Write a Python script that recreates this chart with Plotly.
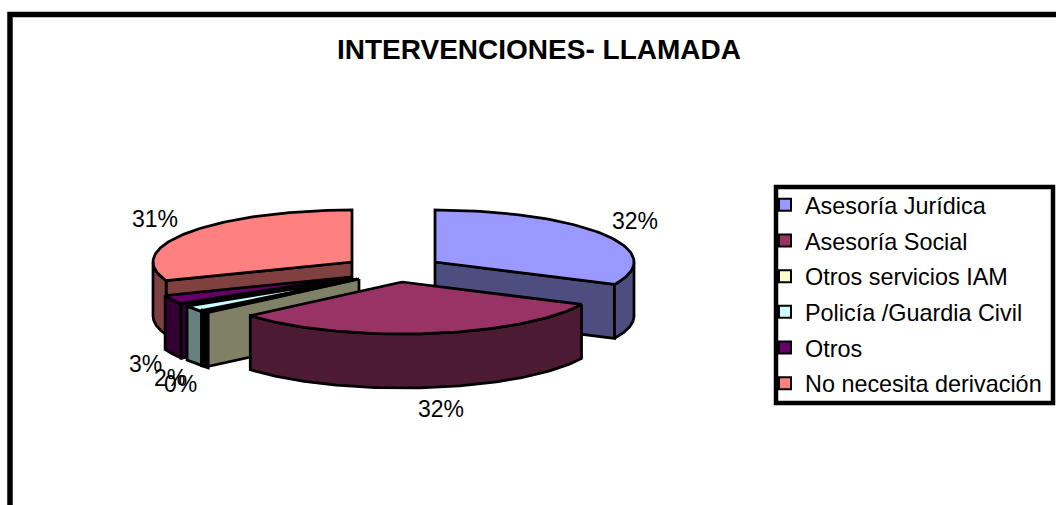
import numpy as np
import plotly.graph_objects as go

# ---- data ----
categories = ["Asesoría Jurídica", "Asesoría Social", "Otros servicios IAM",
              "Policía /Guardia Civil", "Otros", "No necesita derivación"]
values = [32.1, 31.7, 0.49, 2.0, 2.9, 30.81]
top_colors = ["#9999FF", "#993366", "#FFFFCC", "#CCFFFF", "#660066", "#FF8080"]
side_colors = ["#4D4D80", "#4D1A33", "#808066", "#668080", "#330033", "#804040"]

# ---- geometry of the tilted, exploded pie (plot units = pixels) ----
W, H = 1056, 505
RX, RY, DEPTH = 199, 52, 54
centres = [(435, 262), (402, 282), (359, 279), (357, 279), (351, 277), (352, 262)]
draw_order = [5, 4, 3, 2, 0, 1]
label_pos = [(635, 221), (441, 409), (180, 384), (170, 378), (145, 364), (155, 219)]

total = sum(values)
edges = np.concatenate([[0], np.cumsum(values)]) / total * 360.0


def rim(cx, cy, a0, a1, dy=0, n=80):
    t = np.radians(np.linspace(a0, a1, n))
    return cx + RX * np.sin(t), cy - RY * np.cos(t) + dy


fig = go.Figure()


def poly(xs, ys, fill, lw=2.75):
    fig.add_trace(go.Scatter(x=np.round(xs, 2), y=np.round(ys, 2), mode="lines", fill="toself",
                             fillcolor=fill, line=dict(color="black", width=lw),
                             showlegend=False, hoverinfo="skip"))


for i in draw_order:
    cx, cy = centres[i]
    a0, a1 = edges[i], edges[i + 1]
    s0, s1 = np.sin(np.radians(a0)), np.sin(np.radians(a1))
    # radial cut walls that face the viewer
    for ang, show in ((a0, s0 < 0), (a1, s1 > 0)):
        if show:
            x, y = rim(cx, cy, ang, ang, n=1)
            poly([cx, x[0], x[0], cx, cx],
                 [cy, y[0], y[0] + DEPTH, cy + DEPTH, cy], side_colors[i])
    # outer rim (only the front half can be seen); a very thin slice closes up to solid black
    lo, hi = max(a0, 90), min(a1, 270)
    if hi > lo:
        xt, yt = rim(cx, cy, lo, hi)
        xb, yb = rim(cx, cy, hi, lo, DEPTH)
        poly(np.r_[xt, xb, xt[0]], np.r_[yt, yb, yt[0]], side_colors[i],
             lw=4.5 if hi - lo < 2 else 2.75)
    # top face
    xt, yt = rim(cx, cy, a0, a1)
    poly(np.r_[cx, xt, cx], np.r_[cy, yt, cy], top_colors[i])

# legend entries
for i, name in enumerate(categories):
    fig.add_trace(go.Scatter(x=[None], y=[None], mode="markers", name=name, legendgroup=name,
                             marker=dict(symbol="square", size=12, color=top_colors[i],
                                         line=dict(color="black", width=2))))

for i, (lx, ly) in enumerate(label_pos):
    fig.add_annotation(x=lx, y=ly, text=f"{round(values[i] / total * 100)}%", showarrow=False,
                       font=dict(family="Liberation Sans", size=23, color="black"))

fig.add_annotation(x=538.5, y=49.5, text="<b>INTERVENCIONES- LLAMADA</b>", showarrow=False,
                   font=dict(family="Liberation Sans", size=28, color="black"))

fig.add_shape(type="path", path=f"M 10 {H+5} L 10 14.5 L {W+5} 14.5", line=dict(color="black", width=5.5))
fig.add_shape(type="rect", x0=776, y0=187, x1=1053, y1=403, line=dict(color="black", width=4.5))

fig.update_layout(
    width=W, height=H, margin=dict(l=0, r=0, t=0, b=0),
    paper_bgcolor="white", plot_bgcolor="white",
    xaxis=dict(range=[0, W], visible=False, fixedrange=True),
    yaxis=dict(range=[H, 0], visible=False, fixedrange=True),
    legend=dict(x=765 / W, y=1 - 183 / H, xanchor="left", yanchor="top", bgcolor="rgba(0,0,0,0)",
                font=dict(family="Liberation Sans", size=23.4, color="black"),
                tracegroupgap=2.3, itemclick=False, itemdoubleclick=False),
)
fig.write_html("out.html", config={"displayModeBar": False},
               post_script="document.body.style.margin='0';document.body.style.overflow='hidden';")
